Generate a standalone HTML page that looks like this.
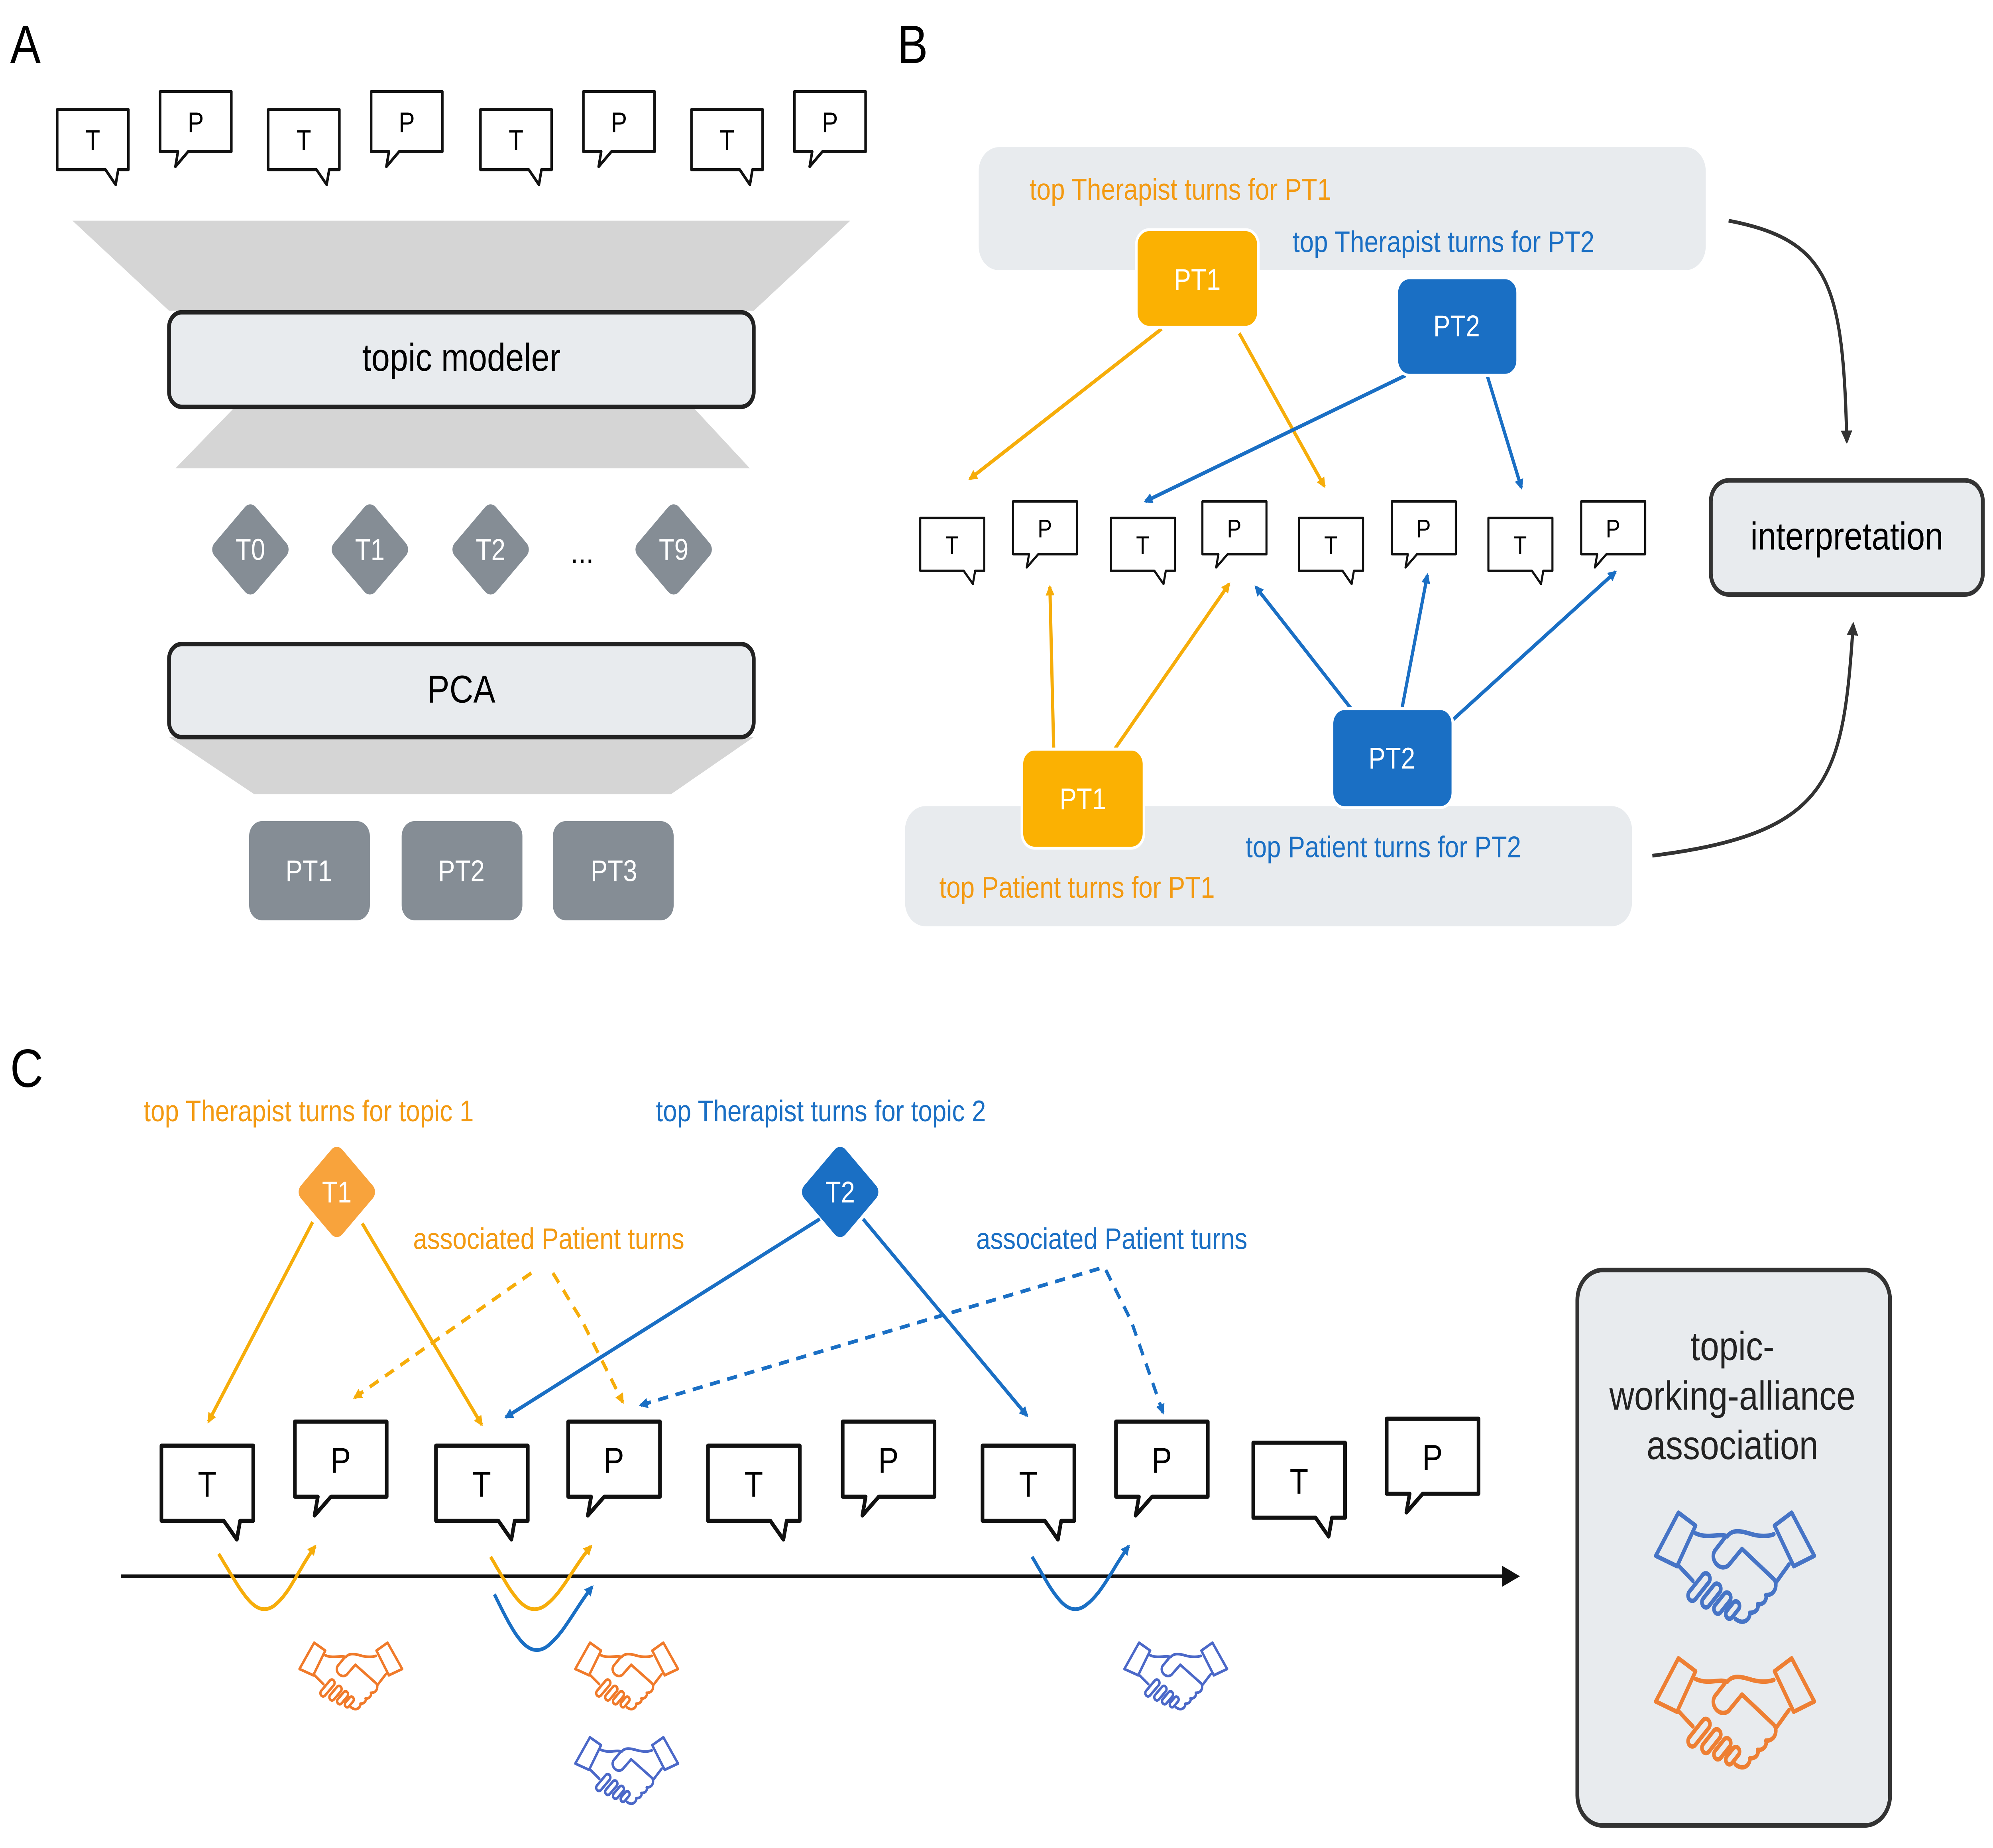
<!DOCTYPE html>
<html><head><meta charset="utf-8"><style>
html,body{margin:0;padding:0;background:#fff;overflow:hidden;width:100vw;height:100vh;}
svg{display:block;width:100vw;height:100vh;}
text{font-family:"Liberation Sans",Arial,sans-serif;}
</style></head><body>
<svg viewBox="0 0 1568 1231" preserveAspectRatio="none" xmlns="http://www.w3.org/2000/svg">
<defs>
<marker id="ao" viewBox="0 0 10 10" refX="8" refY="5" markerWidth="7" markerHeight="7" orient="auto" markerUnits="userSpaceOnUse"><path d="M0,0 L10,5 L0,10 z" fill="#f6ad0a"/></marker>
<marker id="ab" viewBox="0 0 10 10" refX="8" refY="5" markerWidth="7" markerHeight="7" orient="auto" markerUnits="userSpaceOnUse"><path d="M0,0 L10,5 L0,10 z" fill="#1a6fc4"/></marker>
<marker id="ak" viewBox="0 0 10 10" refX="8" refY="5" markerWidth="9" markerHeight="9" orient="auto" markerUnits="userSpaceOnUse"><path d="M0,0 L10,5 L0,10 z" fill="#333"/></marker>
<marker id="ak2" viewBox="0 0 10 10" refX="8" refY="5" markerWidth="14" markerHeight="14" orient="auto" markerUnits="userSpaceOnUse"><path d="M0,0 L10,5 L0,10 z" fill="#111"/></marker>
<path id="bT" d="M0 0H56V40H48L46 50L38 40H0Z"/>
<path id="bP" d="M0 0H56V40H22L12 50L14 40H0Z"/>
<g id="hs" fill="none" stroke-width="26" stroke-linejoin="round" stroke-linecap="round">
<g transform="translate(-637,-410)">
<path d="M225 85 L350 160 L215 395 L60 335 Z"/>
<path d="M1050 85 L925 160 L1065 395 L1215 335 Z"/>
<path d="M350 205 C450 240 520 200 580 222"/>
<path d="M580 222 C620 180 680 190 760 210 C830 225 880 222 920 210"/>
<path d="M565 228 L490 305 C450 360 530 430 590 390 L688 295 L920 470"/>
<path d="M1030 385 L935 490"/>
<path d="M230 395 L330 480"/>
<path d="M640 700 C700 740 750 700 745 665 C800 665 812 630 802 615 C850 620 872 585 862 562 C930 565 948 505 925 475"/>
<rect x="275" y="485" width="200" height="62" rx="31" transform="rotate(-45 375 516)"/>
<rect x="380" y="535" width="170" height="60" rx="30" transform="rotate(-45 465 565)"/>
<rect x="470" y="580" width="150" height="58" rx="29" transform="rotate(-45 545 609)"/>
<rect x="560" y="622" width="120" height="54" rx="27" transform="rotate(-45 620 649)"/>
</g>
</g>
</defs>

<!-- Panel A -->
<text x="8" y="42" font-size="36">A</text>
<g fill="#fff" stroke="#111" stroke-width="2" stroke-linejoin="round">
<use href="#bT" x="45" y="73"/><use href="#bP" x="126" y="61"/>
<use href="#bT" x="211" y="73"/><use href="#bP" x="292" y="61"/>
<use href="#bT" x="378" y="73"/><use href="#bP" x="459" y="61"/>
<use href="#bT" x="544" y="73"/><use href="#bP" x="625" y="61"/>
</g>
<g font-size="19" text-anchor="middle">
<text x="73" y="100">T</text><text x="154" y="88">P</text>
<text x="239" y="100">T</text><text x="320" y="88">P</text>
<text x="406" y="100">T</text><text x="487" y="88">P</text>
<text x="572" y="100">T</text><text x="653" y="88">P</text>
</g>
<polygon points="57,147 669,147 593,207 133,207" fill="#d5d5d5"/>
<polygon points="185,271 545,271 590,312 138,312" fill="#d5d5d5"/>
<polygon points="133,491 593,491 528,529 200,529" fill="#d5d5d5"/>
<rect x="133" y="208" width="460" height="63" rx="10" fill="#e8ebee" stroke="#222" stroke-width="3"/>
<text x="363" y="247" font-size="26" text-anchor="middle">topic modeler</text>
<rect x="133" y="429" width="460" height="62" rx="10" fill="#e8ebee" stroke="#222" stroke-width="3"/>
<text x="363" y="468" font-size="26" text-anchor="middle">PCA</text>
<g fill="#858d95">
<rect x="174" y="343" width="46" height="46" rx="6" transform="rotate(45 197 366)"/>
<rect x="268" y="343" width="46" height="46" rx="6" transform="rotate(45 291 366)"/>
<rect x="363" y="343" width="46" height="46" rx="6" transform="rotate(45 386 366)"/>
<rect x="507" y="343" width="46" height="46" rx="6" transform="rotate(45 530 366)"/>
<rect x="196" y="547" width="95" height="66" rx="10"/>
<rect x="316" y="547" width="95" height="66" rx="10"/>
<rect x="435" y="547" width="95" height="66" rx="10"/>
</g>
<g font-size="20" text-anchor="middle" fill="#fff">
<text x="197" y="373">T0</text><text x="291" y="373">T1</text><text x="386" y="373">T2</text><text x="530" y="373">T9</text>
<text x="243" y="587">PT1</text><text x="363" y="587">PT2</text><text x="483" y="587">PT3</text>
</g>
<text x="458" y="375" font-size="22" text-anchor="middle">...</text>

<!-- Panel B -->
<text x="706" y="42" font-size="36">B</text>
<rect x="770" y="98" width="572" height="82" rx="16" fill="#e8ebee"/>
<rect x="712" y="537" width="572" height="80" rx="16" fill="#e8ebee"/>
<text x="810" y="133" font-size="20" fill="#f39a12">top Therapist turns for PT1</text>
<text x="1017" y="168" font-size="20" fill="#1a6fc4">top Therapist turns for PT2</text>
<text x="980" y="571" font-size="20" fill="#1a6fc4">top Patient turns for PT2</text>
<text x="739" y="598" font-size="20" fill="#f39a12">top Patient turns for PT1</text>
<g fill="#fff" stroke="#111" stroke-width="1.8" stroke-linejoin="round">
<use href="#bT" transform="translate(724,345) scale(0.9,0.88)"/>
<use href="#bP" transform="translate(797,334) scale(0.9,0.88)"/>
<use href="#bT" transform="translate(874,345) scale(0.9,0.88)"/>
<use href="#bP" transform="translate(946,334) scale(0.9,0.88)"/>
<use href="#bT" transform="translate(1022,345) scale(0.9,0.88)"/>
<use href="#bP" transform="translate(1095,334) scale(0.9,0.88)"/>
<use href="#bT" transform="translate(1171,345) scale(0.9,0.88)"/>
<use href="#bP" transform="translate(1244,334) scale(0.9,0.88)"/>
</g>
<g font-size="17" text-anchor="middle">
<text x="749" y="369">T</text><text x="822" y="358">P</text>
<text x="899" y="369">T</text><text x="971" y="358">P</text>
<text x="1047" y="369">T</text><text x="1120" y="358">P</text>
<text x="1196" y="369">T</text><text x="1269" y="358">P</text>
</g>
<g stroke-width="2.5" fill="none">
<line x1="914" y1="219" x2="763" y2="319" stroke="#f6ad0a" marker-end="url(#ao)"/>
<line x1="975" y1="222" x2="1042" y2="324" stroke="#f6ad0a" marker-end="url(#ao)"/>
<line x1="1106" y1="250" x2="901" y2="334" stroke="#1a6fc4" marker-end="url(#ab)"/>
<line x1="1170" y1="250" x2="1197" y2="325" stroke="#1a6fc4" marker-end="url(#ab)"/>
<line x1="829" y1="499" x2="826" y2="391" stroke="#f6ad0a" marker-end="url(#ao)"/>
<line x1="877" y1="499" x2="967" y2="389" stroke="#f6ad0a" marker-end="url(#ao)"/>
<line x1="1063" y1="472" x2="988" y2="391" stroke="#1a6fc4" marker-end="url(#ab)"/>
<line x1="1103" y1="472" x2="1123" y2="383" stroke="#1a6fc4" marker-end="url(#ab)"/>
<line x1="1141" y1="481" x2="1271" y2="381" stroke="#1a6fc4" marker-end="url(#ab)"/>
<path d="M1360 147 C1440 160 1450 190 1453 294" stroke="#333" marker-end="url(#ak)"/>
<path d="M1300 570 C1440 555 1450 520 1458 416" stroke="#333" marker-end="url(#ak)"/>
</g>
<rect x="894" y="153" width="96" height="65" rx="10" fill="#fbb102" stroke="#fff" stroke-width="2"/>
<rect x="1099" y="185" width="95" height="65" rx="10" fill="#1a6fc4" stroke="#fff" stroke-width="2"/>
<rect x="804" y="499" width="96" height="66" rx="10" fill="#fbb102" stroke="#fff" stroke-width="2"/>
<rect x="1048" y="472" width="95" height="66" rx="10" fill="#1a6fc4" stroke="#fff" stroke-width="2"/>
<g font-size="20" text-anchor="middle" fill="#fff">
<text x="942" y="193">PT1</text><text x="1146" y="224">PT2</text>
<text x="852" y="539">PT1</text><text x="1095" y="512">PT2</text>
</g>
<rect x="1346" y="320" width="214" height="76" rx="14" fill="#e8ebee" stroke="#333" stroke-width="3"/>
<text x="1453" y="366" font-size="26" text-anchor="middle">interpretation</text>

<!-- Panel C -->
<text x="8" y="724" font-size="36">C</text>
<text x="113" y="747" font-size="20" fill="#f39a12">top Therapist turns for topic 1</text>
<text x="516" y="747" font-size="20" fill="#1a6fc4">top Therapist turns for topic 2</text>
<text x="325" y="832" font-size="20" fill="#f39a12">associated Patient turns</text>
<text x="768" y="832" font-size="20" fill="#1a6fc4">associated Patient turns</text>
<g stroke-width="2.5" fill="none">
<line x1="246" y1="814" x2="164" y2="947" stroke="#f6ad0a" marker-end="url(#ao)"/>
<line x1="285" y1="815" x2="379" y2="949" stroke="#f6ad0a" marker-end="url(#ao)"/>
<line x1="645" y1="812" x2="398" y2="944" stroke="#1a6fc4" marker-end="url(#ab)"/>
<line x1="679" y1="812" x2="808" y2="943" stroke="#1a6fc4" marker-end="url(#ab)"/>
<g stroke-dasharray="8,6">
<line x1="418" y1="848" x2="279" y2="931" stroke="#f6ad0a" marker-end="url(#ao)"/>
<path d="M435 848 L458 880 L490 934" stroke="#f6ad0a" marker-end="url(#ao)"/>
<line x1="865" y1="845" x2="504" y2="936" stroke="#1a6fc4" marker-end="url(#ab)"/>
<path d="M870 846 L890 880 L915 941" stroke="#1a6fc4" marker-end="url(#ab)"/>
</g>
</g>
<rect x="242" y="771" width="46" height="46" rx="6" transform="rotate(45 265 794)" fill="#f8a33c"/>
<rect x="638" y="771" width="46" height="46" rx="6" transform="rotate(45 661 794)" fill="#1a6fc4"/>
<text x="265" y="801" font-size="20" fill="#fff" text-anchor="middle">T1</text>
<text x="661" y="801" font-size="20" fill="#fff" text-anchor="middle">T2</text>
<g fill="#fff" stroke="#111" stroke-width="2.2" stroke-linejoin="round">
<use href="#bT" transform="translate(127,963) scale(1.29,1.25)"/>
<use href="#bP" transform="translate(232,947) scale(1.29,1.25)"/>
<use href="#bT" transform="translate(343,963) scale(1.29,1.25)"/>
<use href="#bP" transform="translate(447,947) scale(1.29,1.25)"/>
<use href="#bT" transform="translate(557,963) scale(1.29,1.25)"/>
<use href="#bP" transform="translate(663,947) scale(1.29,1.25)"/>
<use href="#bT" transform="translate(773,963) scale(1.29,1.25)"/>
<use href="#bP" transform="translate(878,947) scale(1.29,1.25)"/>
<use href="#bT" transform="translate(986,961) scale(1.29,1.25)"/>
<use href="#bP" transform="translate(1091,945) scale(1.29,1.25)"/>
</g>
<g font-size="24" text-anchor="middle">
<text x="163" y="997">T</text><text x="268" y="981">P</text>
<text x="379" y="997">T</text><text x="483" y="981">P</text>
<text x="593" y="997">T</text><text x="699" y="981">P</text>
<text x="809" y="997">T</text><text x="914" y="981">P</text>
<text x="1022" y="995">T</text><text x="1127" y="979">P</text>
</g>
<line x1="95" y1="1050" x2="1193" y2="1050" stroke="#111" stroke-width="2.5" marker-end="url(#ak2)"/>
<g stroke-width="2.5" fill="none">
<path d="M172 1035 C190 1060 200 1078 215 1070 C228 1062 235 1045 248 1030" stroke="#f6ad0a" marker-end="url(#ao)"/>
<path d="M386 1037 C402 1060 412 1078 428 1070 C442 1062 450 1045 465 1030" stroke="#f6ad0a" marker-end="url(#ao)"/>
<path d="M389 1062 C405 1090 415 1105 430 1097 C444 1088 452 1072 466 1057" stroke="#1a6fc4" marker-end="url(#ab)"/>
<path d="M812 1037 C828 1060 838 1078 853 1070 C867 1062 875 1045 888 1030" stroke="#1a6fc4" marker-end="url(#ab)"/>
</g>
<use href="#hs" transform="translate(276,1117) scale(0.07)" stroke="#f07a2a"/>
<use href="#hs" transform="translate(493,1117) scale(0.07)" stroke="#f07a2a"/>
<use href="#hs" transform="translate(493,1180) scale(0.07)" stroke="#4b68c8"/>
<use href="#hs" transform="translate(925,1117) scale(0.07)" stroke="#4b68c8"/>
<rect x="1241" y="846" width="246" height="370" rx="20" fill="#e8ebee" stroke="#333" stroke-width="3"/>
<g font-size="27" text-anchor="middle" fill="#222">
<text x="1363" y="906">topic-</text>
<text x="1363" y="939">working-alliance</text>
<text x="1363" y="972">association</text>
</g>
<use href="#hs" transform="translate(1365,1045) scale(0.108,0.115)" stroke="#4674c6"/>
<use href="#hs" transform="translate(1365,1142) scale(0.108,0.115)" stroke="#ee7f33"/>
</svg>
</body></html>
